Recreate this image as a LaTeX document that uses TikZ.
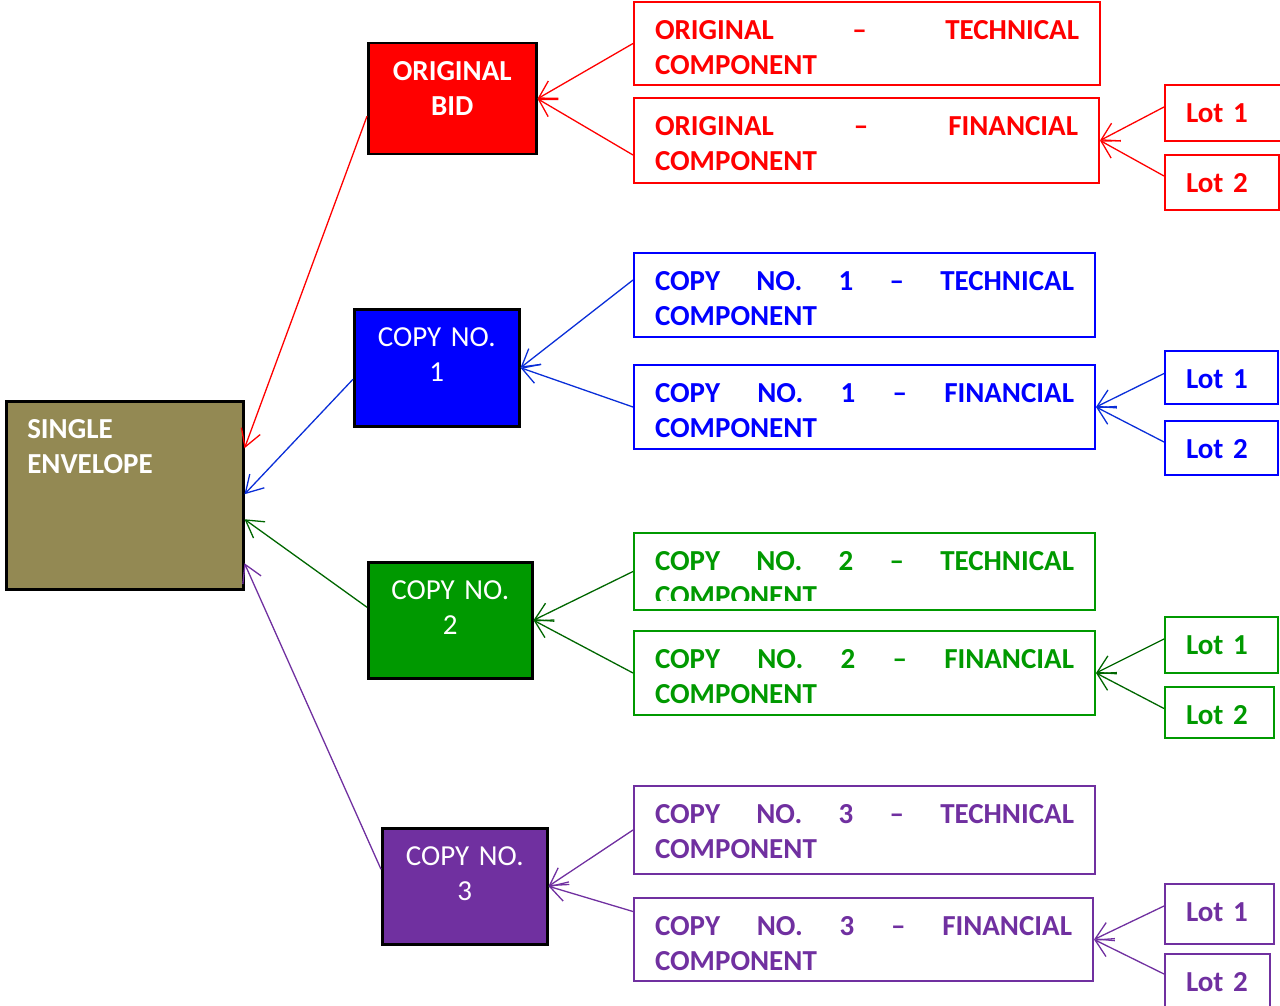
\documentclass[tikz,border=0pt]{standalone}
\usepackage{fontspec}
\setmainfont{Carlito}
\usepackage{tikz}
\usetikzlibrary{arrows.meta}
\definecolor{colorEnvelope}{HTML}{938953}
\definecolor{colorOriginal}{HTML}{FF0000}
\definecolor{colorCopyOne}{HTML}{0000FF}
\definecolor{colorCopyOneLine}{HTML}{0A2ED8}
\definecolor{colorCopyTwo}{HTML}{009900}
\definecolor{colorCopyTwoLine}{HTML}{006600}
\definecolor{colorCopyThree}{HTML}{7030A0}
\tikzset{
  box/.style={rectangle, anchor=north west, inner xsep=21pt, inner ysep=0pt, text height=37.5pt},
  mainbox/.style={box, draw=black, line width=2.5pt, fill=#1, text=white, align=center, font=\fontsize{29}{35}\selectfont},
  partbox/.style={box, draw=#1, line width=2pt, text=#1, align=left, font=\fontsize{29}{35}\selectfont\bfseries},
}

\begin{document}
\begin{tikzpicture}[x=1pt, y=-1pt, >={Straight Barb[length=17pt,width=20pt]}, line width=1.3pt]
\useasboundingbox (0,0) rectangle (1280,1006);

\node[mainbox=colorEnvelope, align=left, font=\fontsize{29}{35}\selectfont\bfseries, text width=195pt, text depth=150.5pt] (env) at (5,400) {SINGLE\\ENVELOPE};

% original
\node[mainbox=colorOriginal, font=\fontsize{29}{35}\selectfont\bfseries, text width=126pt, text depth=73.5pt] (bid) at (367,42) {ORIGINAL\\BID};
\node[partbox=colorOriginal, text width=424pt, text depth=45.5pt] (ot) at (633,1) {ORIGINAL\hfill--\hfill TECHNICAL\\COMPONENT};
\node[partbox=colorOriginal, text width=423pt, text depth=47.5pt] (of) at (633,97) {ORIGINAL\hfill--\hfill FINANCIAL\\COMPONENT};
\node[partbox=colorOriginal, text width=76pt, text depth=18.5pt] (oL1) at (1164,84) {Lot 1};
\node[partbox=colorOriginal, text width=72pt, text depth=17.5pt] (oL2) at (1164,154) {Lot 2};

% copy 1
\node[mainbox=colorCopyOne, text width=123pt, text depth=79.5pt] (cpA) at (353,308) {COPY NO.\\1};
\node[partbox=colorCopyOne, text width=419pt, text depth=46.5pt] (bt) at (633,252) {COPY\hfill NO.\hfill 1\hfill --\hfill TECHNICAL\\COMPONENT};
\node[partbox=colorCopyOne, text width=419pt, text depth=46.5pt] (bf) at (633,364) {COPY\hfill NO.\hfill 1\hfill --\hfill FINANCIAL\\COMPONENT};
\node[partbox=colorCopyOne, text width=71pt, text depth=15.5pt] (bL1) at (1164,350) {Lot 1};
\node[partbox=colorCopyOne, text width=71pt, text depth=16.5pt] (bL2) at (1164,420) {Lot 2};

% copy 2
\node[mainbox=colorCopyTwo, text width=122pt, text depth=78.5pt] (cpB) at (367,561) {COPY NO.\\2};
\node[partbox=colorCopyTwo, text width=419pt, text depth=39.5pt] (gt) at (633,532) {};
\begin{scope}
  \clip (gt.north west) rectangle ([yshift=11pt]gt.south east);
  \node[partbox=colorCopyTwo, draw=none, text width=419pt, text depth=39.5pt] (gtText) at (633,532) {COPY\hfill NO.\hfill 2\hfill --\hfill TECHNICAL\\COMPONENT};
\end{scope}
\node[partbox=colorCopyTwo, text width=419pt, text depth=46.5pt] (gf) at (633,630) {COPY\hfill NO.\hfill 2\hfill --\hfill FINANCIAL\\COMPONENT};
\node[partbox=colorCopyTwo, text width=71pt, text depth=18.5pt] (gL1) at (1164,616) {Lot 1};
\node[partbox=colorCopyTwo, text width=67pt, text depth=13.5pt] (gL2) at (1164,686) {Lot 2};

% copy 3
\node[mainbox=colorCopyThree, text width=123pt, text depth=78.5pt] (cpC) at (381,827) {COPY NO.\\3};
\node[partbox=colorCopyThree, text width=419pt, text depth=50.5pt] (pt) at (633,785) {COPY\hfill NO.\hfill 3\hfill --\hfill TECHNICAL\\COMPONENT};
\node[partbox=colorCopyThree, text width=417pt, text depth=45.5pt] (pf) at (633,897) {COPY\hfill NO.\hfill 3\hfill --\hfill FINANCIAL\\COMPONENT};
\node[partbox=colorCopyThree, text width=67pt, text depth=22.5pt] (pL1) at (1164,883) {Lot 1};
\node[partbox=colorCopyThree, text width=63pt, text depth=22.5pt] (pL2) at (1164,953) {Lot 2};

% arrows
\draw [colorOriginal] ([yshift=-17.5pt]bid.west) edge [->] ([yshift=47pt]env.east);
\draw [colorOriginal] (ot.west) edge [->] (bid.east);
\draw [colorOriginal] ([yshift=-14.5pt]of.west) edge [->] (bid.east);
\draw [colorOriginal] ([yshift=6pt]oL1.west) edge [->] (of.east);
\draw [colorOriginal] ([yshift=6.5pt]oL2.west) edge [->] (of.east);

\draw [colorCopyOneLine] ([yshift=-11.5pt]cpA.west) edge [->] ([yshift=1pt]env.east);
\draw [colorCopyOneLine] ([yshift=15pt]bt.west) edge [->] (cpA.east);
\draw [colorCopyOneLine] (bf.west) edge [->] (cpA.east);
\draw [colorCopyOneLine] ([yshift=4pt]bL1.west) edge [->] (bf.east);
\draw [colorCopyOneLine] ([yshift=6pt]bL2.west) edge [->] (bf.east);

\draw [colorCopyTwoLine] ([yshift=13pt]cpB.west) edge [->] ([yshift=-24pt]env.east);
\draw [colorCopyTwoLine] (gt.west) edge [->] (cpB.east);
\draw [colorCopyTwoLine] (gf.west) edge [->] (cpB.east);
\draw [colorCopyTwoLine] ([yshift=6pt]gL1.west) edge [->] (gf.east);
\draw [colorCopyTwoLine] ([yshift=4pt]gL2.west) edge [->] (gf.east);

\draw [colorCopyThree] ([yshift=17pt]cpC.west) edge [->] ([yshift=-68pt]env.east);
\draw [colorCopyThree] (pt.west) edge [->] (cpC.east);
\draw [colorCopyThree] ([yshift=28pt]pf.west) edge [->] (cpC.east);
\draw [colorCopyThree] ([yshift=8pt]pL1.west) edge [->] (pf.east);
\draw [colorCopyThree] ([yshift=10pt]pL2.west) edge [->] (pf.east);
\end{tikzpicture}
\end{document}
